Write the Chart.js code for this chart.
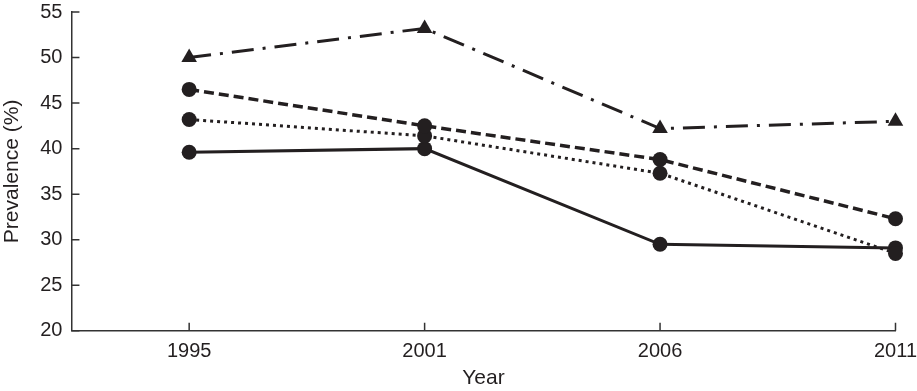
<!DOCTYPE html>
<html>
<head>
<meta charset="utf-8">
<script src="https://cdn.jsdelivr.net/npm/chart.js@4"></script>
<style>
html,body{margin:0;padding:0;background:#fff;}
#wrap{width:917px;height:391px;position:relative;}
</style>
</head>
<body>
<div id="wrap"><canvas id="c" width="917" height="391"></canvas></div>
<script>
const years = ['1995', '2001', '2006', '2011'];
const yTicks = [20, 25, 30, 35, 40, 45, 50, 55];
const seriesTriangle = [50.0, 53.2, 42.2, 43.0];
const seriesDashed = [46.5, 42.5, 38.8, 32.3];
const seriesDotted = [43.2, 41.4, 37.3, 28.5];
const seriesSolid = [39.6, 40.0, 29.5, 29.1];

const ink = '#231f20';
const toPts = arr => arr.map((v, i) => ({x: i, y: v}));

function ds(data, dash, style, radius, width) {
  return {
    data: toPts(data),
    borderColor: ink,
    backgroundColor: ink,
    borderWidth: width,
    borderDash: dash,
    pointStyle: style,
    pointRadius: radius,
    pointHoverRadius: radius,
    pointBorderWidth: 0,
    pointBackgroundColor: ink,
    tension: 0,
    fill: false,
    clip: false
  };
}

const innerTicks = {
  id: 'innerTicks',
  afterDraw(chart) {
    const ctx = chart.ctx;
    const xs = chart.scales.x, ys = chart.scales.y;
    ctx.save();
    ctx.strokeStyle = '#333';
    ctx.lineWidth = 1.5;
    ctx.beginPath();
    years.forEach((_, i) => {
      const px = xs.getPixelForValue(i);
      ctx.moveTo(px, ys.bottom);
      ctx.lineTo(px, ys.bottom - 8);
    });
    yTicks.forEach(v => {
      const py = ys.getPixelForValue(v);
      ctx.moveTo(xs.left, py);
      ctx.lineTo(xs.left + 8, py);
    });
    ctx.stroke();
    ctx.restore();
  }
};

const gridX = {display: true, drawOnChartArea: false, drawTicks: true, tickLength: 11, tickColor: 'rgba(0,0,0,0)'};
const gridY = {display: true, drawOnChartArea: false, drawTicks: true, tickLength: 9, tickColor: 'rgba(0,0,0,0)'};

new Chart(document.getElementById('c'), {
  type: 'line',
  data: {
    datasets: [
      ds(seriesTriangle, [22, 9, 3, 9], 'triangle', 9, 3),
      ds(seriesDashed, [10, 5], 'circle', 7.5, 3.5),
      ds(seriesDotted, [3, 4], 'circle', 7.5, 3),
      ds(seriesSolid, [], 'circle', 7.5, 3)
    ]
  },
  options: {
    responsive: false,
    animation: false,
    events: [],
    layout: {autoPadding: false, padding: {left: 0, right: 0, top: 0, bottom: 0}},
    plugins: {legend: {display: false}, tooltip: {enabled: false}},
    scales: {
      x: {
        type: 'linear',
        min: -0.5,
        max: 3,
        afterBuildTicks: s => { s.ticks = years.map((_, i) => ({value: i})); },
        ticks: {
          callback: v => years[v],
          color: ink,
          font: {family: 'Liberation Sans', size: 20, lineHeight: 1.0},
          padding: 0,
          maxRotation: 0
        },
        grid: gridX,
        border: {display: true, color: '#333', width: 1.5},
        title: {
          display: true, text: 'Year', color: ink,
          font: {family: 'Liberation Sans', size: 21},
          padding: {top: 4, bottom: 0}
        }
      },
      y: {
        type: 'linear',
        min: 20,
        max: 55,
        afterBuildTicks: s => { s.ticks = yTicks.map(v => ({value: v})); },
        ticks: {
          color: ink,
          font: {family: 'Liberation Sans', size: 20},
          padding: 0
        },
        grid: gridY,
        border: {display: true, color: '#333', width: 1.5},
        title: {
          display: true, text: 'Prevalence (%)', color: ink,
          font: {family: 'Liberation Sans', size: 21},
          padding: {top: 0, bottom: 15}
        }
      }
    }
  },
  plugins: [innerTicks]
});
</script>
</body>
</html>
